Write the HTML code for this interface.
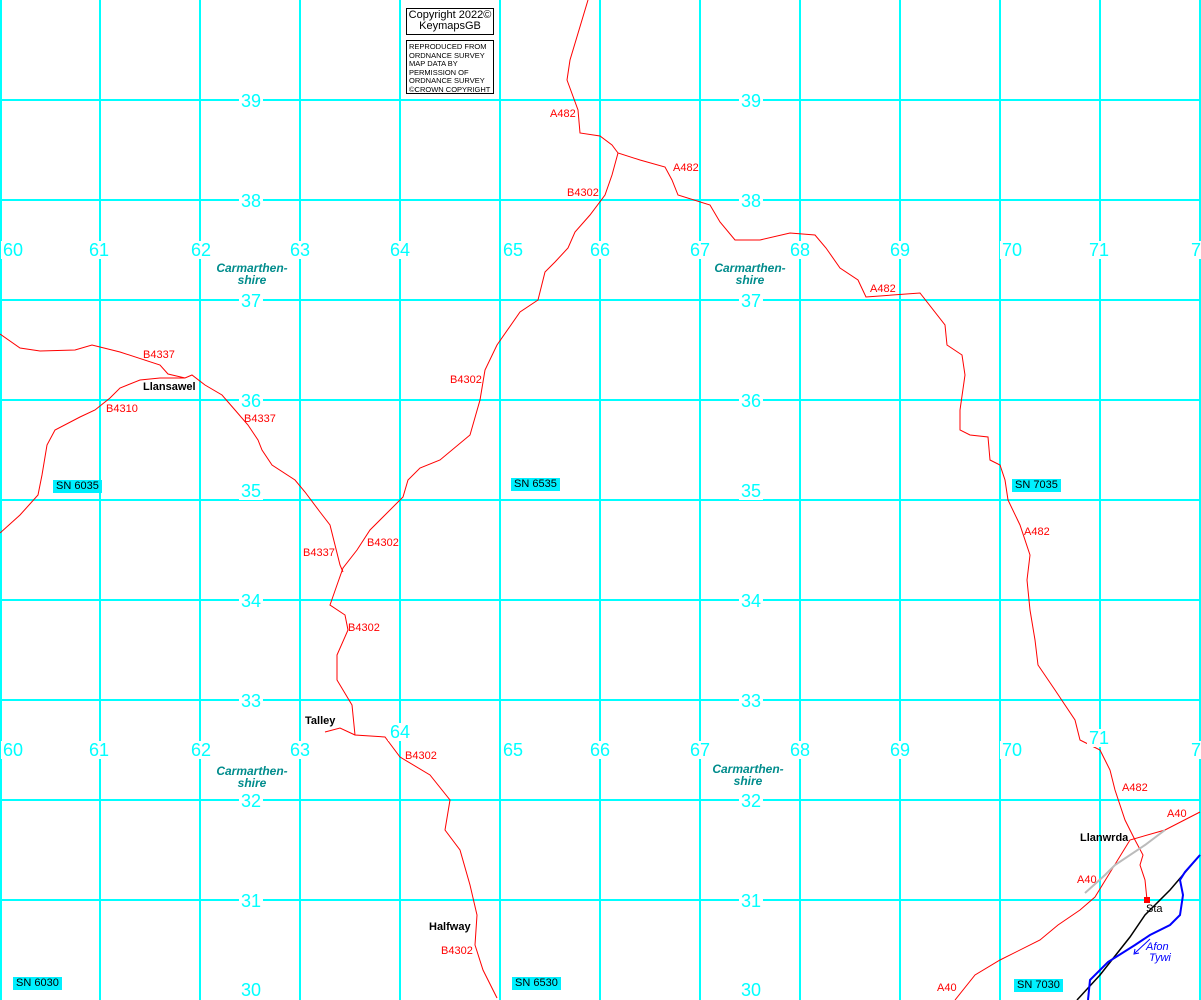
<!DOCTYPE html>
<html><head><style>
body{margin:0;background:#fff;width:1201px;height:1000px;overflow:hidden;position:relative;font-family:"Liberation Sans",sans-serif}
.t{position:absolute;white-space:nowrap}
.g{color:#00ffff;font-size:18px;transform:translate(-50%,-50%);background:#fff;padding:0 2px;line-height:18px}
.r{color:#f00;font-size:11px}
.b{color:#000;font-size:11px;font-weight:bold}
.c{color:#008c8c;font-size:12px;font-weight:bold;font-style:italic;text-align:center;line-height:12px;transform:translateX(-50%)}
.sn{background:#00f0ff;color:#000;font-size:11px;padding:0 3px;line-height:13px}
.box{position:absolute;border:1px solid #000;background:#fff;white-space:nowrap;overflow:hidden;box-sizing:border-box}
</style></head><body>
<svg width="1201" height="1000" style="position:absolute;left:0;top:0">
<g stroke="#00ffff" stroke-width="2">
<line x1="1" y1="0" x2="1" y2="1000"/><line x1="100" y1="0" x2="100" y2="1000"/><line x1="200" y1="0" x2="200" y2="1000"/><line x1="300" y1="0" x2="300" y2="1000"/><line x1="400" y1="0" x2="400" y2="1000"/><line x1="500" y1="0" x2="500" y2="1000"/><line x1="600" y1="0" x2="600" y2="1000"/><line x1="700" y1="0" x2="700" y2="1000"/><line x1="800" y1="0" x2="800" y2="1000"/><line x1="900" y1="0" x2="900" y2="1000"/><line x1="1000" y1="0" x2="1000" y2="1000"/><line x1="1100" y1="0" x2="1100" y2="1000"/><line x1="1200" y1="0" x2="1200" y2="1000"/>
<line x1="0" y1="100" x2="1201" y2="100"/><line x1="0" y1="200" x2="1201" y2="200"/><line x1="0" y1="300" x2="1201" y2="300"/><line x1="0" y1="400" x2="1201" y2="400"/><line x1="0" y1="500" x2="1201" y2="500"/><line x1="0" y1="600" x2="1201" y2="600"/><line x1="0" y1="700" x2="1201" y2="700"/><line x1="0" y1="800" x2="1201" y2="800"/><line x1="0" y1="900" x2="1201" y2="900"/>
</g>
<g fill="none" stroke="#f00" stroke-width="1">
<polyline points="588,0 570,60 567,80 578,110 580,133 600,136 612,145 618,153 640,160 665,167 672,180 678,195 710,205 720,222 735,240 760,240 790,233 815,235 826,248 840,268 858,280 866,297 920,293 945,325 947,345 962,355 965,375 960,410 960,430 970,435 988,437 990,460 1000,465 1005,480 1008,500 1020,525 1030,555 1027,580 1030,610 1035,640 1038,665 1055,690 1075,720 1080,740 1100,750 1110,770 1115,790 1125,820 1135,840 1143,855 1140,865 1145,880 1147,900"/>
<polyline points="618,153 612,175 605,195 590,215 575,232 568,248 555,262 545,272 538,300 520,312 497,345 485,370 480,400 470,435 440,460 420,468 408,480 403,497 385,515 370,530 357,550 343,568 337,585 330,605 345,615 348,630 337,655 337,680 352,705 355,735 385,737 400,757 430,775 450,800 445,830 460,850 470,885 477,915 475,945 483,970 497,998"/>
<polyline points="325,732 340,728 355,735"/>
<polyline points="0,334 20,348 40,351 75,350 92,345 120,352 160,365 168,374 185,378 192,375 205,385 222,395 235,410 248,425 258,440 262,450 272,465 295,480 305,492 320,512 330,525 335,545 340,565 343,572"/>
<polyline points="0,533 20,515 38,495 42,475 47,445 55,430 80,417 95,410 110,398 120,388 140,380 160,378 185,378"/>
<polyline points="955,1000 975,975 1000,960 1040,940 1058,925 1080,910 1095,897 1130,840 1165,830 1200,812"/>
</g>
<polyline points="1085,893 1105,875 1115,865 1145,845 1165,830" fill="none" stroke="#bbb" stroke-width="2"/>
<polyline points="1077,1000 1100,975 1130,937 1145,915 1170,890 1200,855" fill="none" stroke="#000" stroke-width="1.5"/>
<polyline points="1088,1000 1090,980 1108,962 1135,945 1150,935 1170,925 1180,915 1183,895 1180,880 1185,872 1200,855" fill="none" stroke="#00f" stroke-width="2"/>
<line x1="1150" y1="939" x2="1135" y2="953" stroke="#00f"/><polyline points="1135,949 1134,954 1139,953" fill="none" stroke="#00f"/>
<rect x="1144" y="897" width="6" height="6" fill="#f00"/>
</svg>
<div class="box" style="left:406px;top:8px;width:88px;height:27px;font-size:11px;line-height:11px;text-align:center;padding-top:1px">Copyright 2022©<br>KeymapsGB</div>
<div class="box" style="left:406px;top:40px;width:88px;height:54px;font-size:7.5px;line-height:8.5px;padding:2px 0 0 2px">REPRODUCED FROM<br>ORDNANCE SURVEY<br>MAP DATA BY<br>PERMISSION OF<br>ORDNANCE SURVEY<br>©CROWN COPYRIGHT</div>
<div class="t g" style="left:251px;top:101px">39</div><div class="t g" style="left:251px;top:201px">38</div><div class="t g" style="left:251px;top:301px">37</div><div class="t g" style="left:251px;top:401px">36</div><div class="t g" style="left:251px;top:491px">35</div><div class="t g" style="left:251px;top:601px">34</div><div class="t g" style="left:251px;top:701px">33</div><div class="t g" style="left:251px;top:801px">32</div><div class="t g" style="left:251px;top:901px">31</div><div class="t g" style="left:251px;top:990px">30</div>
<div class="t g" style="left:751px;top:101px">39</div><div class="t g" style="left:751px;top:201px">38</div><div class="t g" style="left:751px;top:301px">37</div><div class="t g" style="left:751px;top:401px">36</div><div class="t g" style="left:751px;top:491px">35</div><div class="t g" style="left:751px;top:601px">34</div><div class="t g" style="left:751px;top:701px">33</div><div class="t g" style="left:751px;top:801px">32</div><div class="t g" style="left:751px;top:901px">31</div><div class="t g" style="left:751px;top:990px">30</div>
<div class="t g" style="left:13px;top:250px">60</div><div class="t g" style="left:99px;top:250px">61</div><div class="t g" style="left:201px;top:250px">62</div><div class="t g" style="left:300px;top:250px">63</div><div class="t g" style="left:400px;top:250px">64</div><div class="t g" style="left:513px;top:250px">65</div><div class="t g" style="left:600px;top:250px">66</div><div class="t g" style="left:700px;top:250px">67</div><div class="t g" style="left:800px;top:250px">68</div><div class="t g" style="left:900px;top:250px">69</div><div class="t g" style="left:1012px;top:250px">70</div><div class="t g" style="left:1099px;top:250px">71</div><div class="t g" style="left:1196px;top:250px">7</div>
<div class="t g" style="left:13px;top:750px">60</div><div class="t g" style="left:99px;top:750px">61</div><div class="t g" style="left:201px;top:750px">62</div><div class="t g" style="left:300px;top:750px">63</div><div class="t g" style="left:400px;top:732px">64</div><div class="t g" style="left:513px;top:750px">65</div><div class="t g" style="left:600px;top:750px">66</div><div class="t g" style="left:700px;top:750px">67</div><div class="t g" style="left:800px;top:750px">68</div><div class="t g" style="left:900px;top:750px">69</div><div class="t g" style="left:1012px;top:750px">70</div><div class="t g" style="left:1099px;top:738px">71</div><div class="t g" style="left:1196px;top:750px">7</div>
<div class="t c" style="left:252px;top:262px">Carmarthen-<br>shire</div><div class="t c" style="left:750px;top:262px">Carmarthen-<br>shire</div><div class="t c" style="left:252px;top:765px">Carmarthen-<br>shire</div><div class="t c" style="left:748px;top:763px">Carmarthen-<br>shire</div>
<div class="t r" style="left:550px;top:108px">A482</div><div class="t r" style="left:673px;top:162px">A482</div><div class="t r" style="left:870px;top:283px">A482</div><div class="t r" style="left:1024px;top:526px">A482</div><div class="t r" style="left:1122px;top:782px">A482</div>
<div class="t r" style="left:567px;top:187px">B4302</div><div class="t r" style="left:450px;top:374px">B4302</div><div class="t r" style="left:367px;top:537px">B4302</div><div class="t r" style="left:348px;top:622px">B4302</div><div class="t r" style="left:405px;top:750px">B4302</div><div class="t r" style="left:441px;top:945px">B4302</div>
<div class="t r" style="left:143px;top:349px">B4337</div><div class="t r" style="left:244px;top:413px">B4337</div><div class="t r" style="left:303px;top:547px">B4337</div><div class="t r" style="left:106px;top:403px">B4310</div>
<div class="t r" style="left:1167px;top:808px">A40</div><div class="t r" style="left:1077px;top:874px">A40</div><div class="t r" style="left:937px;top:982px">A40</div>
<div class="t b" style="left:143px;top:381px">Llansawel</div><div class="t b" style="left:305px;top:715px">Talley</div><div class="t b" style="left:429px;top:921px">Halfway</div><div class="t b" style="left:1080px;top:832px">Llanwrda</div>
<div class="t" style="left:1146px;top:903px;font-size:11px">Sta</div>
<div class="t" style="left:1146px;top:942px;font-size:11px;color:#00f;font-style:italic;line-height:11px">Afon<br>&nbsp;Tywi</div>
<div class="t sn" style="left:53px;top:480px">SN 6035</div><div class="t sn" style="left:511px;top:478px">SN 6535</div><div class="t sn" style="left:1012px;top:479px">SN 7035</div>
<div class="t sn" style="left:13px;top:977px">SN 6030</div><div class="t sn" style="left:512px;top:977px">SN 6530</div><div class="t sn" style="left:1014px;top:979px">SN 7030</div>
</body></html>
